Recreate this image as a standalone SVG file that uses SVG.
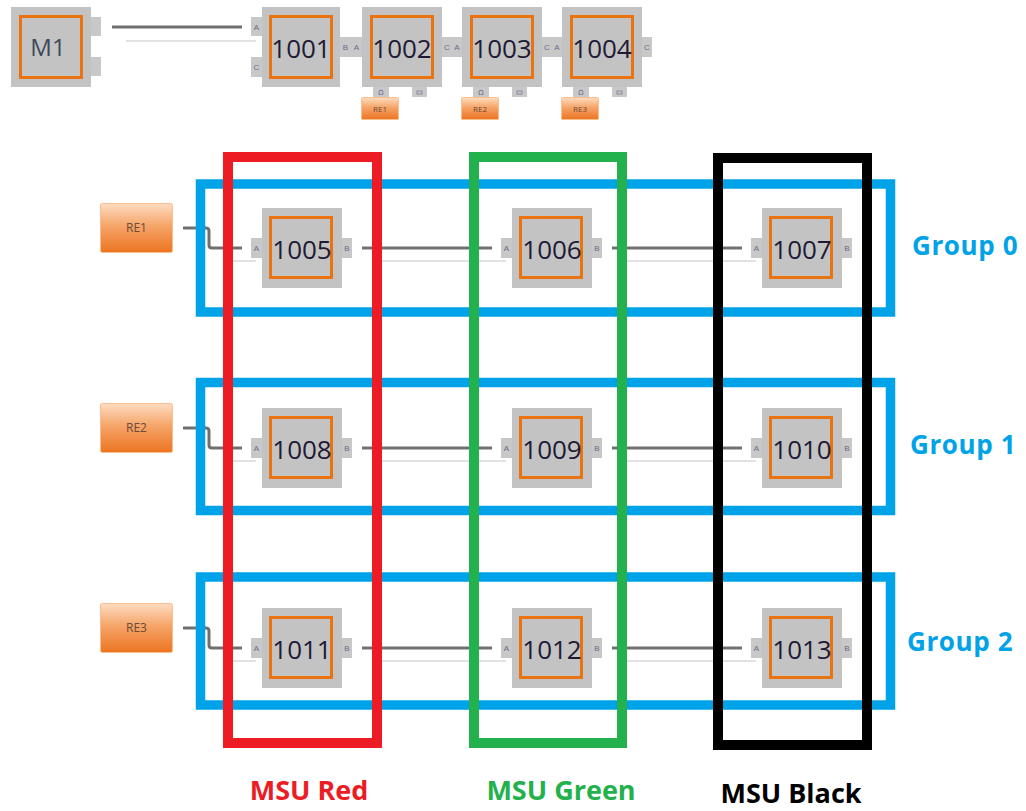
<svg xmlns="http://www.w3.org/2000/svg" width="1026" height="811" viewBox="0 0 1026 811">
<defs>
<linearGradient id="reg" x1="0" y1="0" x2="0" y2="1">
<stop offset="0" stop-color="#FDDCC0"/>
<stop offset="0.45" stop-color="#F6A56A"/>
<stop offset="1" stop-color="#EC7420"/>
</linearGradient>
</defs>
<style>
.body{fill:#C3C3C3}
.tab{fill:#C8C8C8}
.inner{fill:none;stroke:#EA730F;stroke-width:3}
.num{font-family:"Open Sans",sans-serif;font-size:26px;fill:#1E1A36;text-anchor:middle}
.port{font-family:"Liberation Sans",sans-serif;font-size:8px;fill:#6A6A8A;text-anchor:middle}
.re{fill:url(#reg);stroke:#F7BE8E;stroke-width:1}
.retxt{font-family:"Open Sans",sans-serif;font-size:12px;fill:#6A4A3A;text-anchor:middle}
.retxts{font-family:"Open Sans",sans-serif;font-size:8px;fill:#6A4A3A;text-anchor:middle}
.wire{fill:none;stroke:#707070;stroke-width:3}
.shadow{fill:none;stroke:#E2E2E2;stroke-width:2}
.grp{fill:none;stroke:#00A2E8;stroke-width:9.5}
.col{fill:none;stroke-width:10}
.glbl{font-family:"Open Sans",sans-serif;font-weight:700;font-size:26px;letter-spacing:0.6px;fill:#00A2E8}
.mlbl{font-family:"Open Sans",sans-serif;font-weight:700;font-size:27px;text-anchor:middle}
</style>

<g id="connectors">
<line class="shadow" x1="126" y1="41" x2="256" y2="41"/>
<line class="wire" x1="112" y1="27" x2="242" y2="27"/>
<g id="row0-wires">
<line class="shadow" x1="232" y1="261" x2="256" y2="261"/>
<path class="wire" d="M183,228 H206 Q209,228 209,231 V245 Q209,248 212,248 H242"/>
<line class="shadow" x1="376" y1="261" x2="506" y2="261"/>
<line class="wire" x1="362" y1="248" x2="492" y2="248"/>
<line class="shadow" x1="626" y1="261" x2="756" y2="261"/>
<line class="wire" x1="612" y1="248" x2="742" y2="248"/>
</g>
<g id="row1-wires">
<line class="shadow" x1="232" y1="461" x2="256" y2="461"/>
<path class="wire" d="M183,428 H206 Q209,428 209,431 V445 Q209,448 212,448 H242"/>
<line class="shadow" x1="376" y1="461" x2="506" y2="461"/>
<line class="wire" x1="362" y1="448" x2="492" y2="448"/>
<line class="shadow" x1="626" y1="461" x2="756" y2="461"/>
<line class="wire" x1="612" y1="448" x2="742" y2="448"/>
</g>
<g id="row2-wires">
<line class="shadow" x1="232" y1="661" x2="256" y2="661"/>
<path class="wire" d="M183,628 H206 Q209,628 209,631 V645 Q209,648 212,648 H242"/>
<line class="shadow" x1="376" y1="661" x2="506" y2="661"/>
<line class="wire" x1="362" y1="648" x2="492" y2="648"/>
<line class="shadow" x1="626" y1="661" x2="756" y2="661"/>
<line class="wire" x1="612" y1="648" x2="742" y2="648"/>
</g>
</g>

<!-- Top row -->
<g id="M1">
<rect class="body" x="11" y="7" width="80" height="80"/>
<rect class="tab" x="91" y="17" width="10" height="19"/>
<rect class="tab" x="91" y="57" width="10" height="19"/>
<rect class="inner" x="20.5" y="16.5" width="61" height="61"/>
<text x="48" y="56" font-family="Open Sans, sans-serif" font-size="24" fill="#3D4A5C" text-anchor="middle">M1</text>
</g>

<g id="n1001">
<rect class="tab" x="251" y="17" width="11" height="19"/>
<rect class="tab" x="251" y="57" width="11" height="20"/>
<text class="port" x="256.5" y="30">A</text>
<text class="port" x="256.5" y="70">C</text>
<rect class="body" x="262" y="7" width="78" height="80"/>
<rect class="inner" x="270.5" y="16.5" width="61" height="61"/>
<text class="num" x="301" y="58">1001</text>
<rect class="tab" x="340" y="37" width="11" height="20"/>
<text class="port" x="345.5" y="50">B</text>
</g>

<g id="n1002">
<rect class="tab" x="351" y="37" width="11" height="20"/>
<text class="port" x="356.5" y="50">A</text>
<rect class="body" x="362" y="7" width="80" height="80"/>
<rect class="inner" x="371.5" y="16.5" width="61" height="61"/>
<text class="num" x="402" y="58">1002</text>
<rect class="tab" x="442" y="37" width="10" height="20"/>
<text class="port" x="447" y="50">C</text>
<rect class="tab" x="373" y="87" width="16" height="10"/>
<rect class="tab" x="412" y="87" width="15" height="10"/>
<text x="381" y="95" font-family="DejaVu Sans, sans-serif" font-size="7" fill="#6A6A8A" text-anchor="middle">Ω</text>
<rect x="417" y="91" width="5" height="3" fill="none" stroke="#7A7A9A" stroke-width="0.8"/>
<rect class="re" x="361.5" y="97.5" width="37" height="22" rx="1"/>
<text class="retxts" x="380" y="112">RE1</text>
</g>

<g id="n1003">
<rect class="tab" x="452" y="37" width="10" height="20"/>
<text class="port" x="457" y="50">A</text>
<rect class="body" x="462" y="7" width="80" height="80"/>
<rect class="inner" x="471.5" y="16.5" width="61" height="61"/>
<text class="num" x="502" y="58">1003</text>
<rect class="tab" x="542" y="37" width="10" height="20"/>
<text class="port" x="547" y="50">C</text>
<rect class="tab" x="473" y="87" width="16" height="10"/>
<rect class="tab" x="512" y="87" width="15" height="10"/>
<text x="481" y="95" font-family="DejaVu Sans, sans-serif" font-size="7" fill="#6A6A8A" text-anchor="middle">Ω</text>
<rect x="517" y="91" width="5" height="3" fill="none" stroke="#7A7A9A" stroke-width="0.8"/>
<rect class="re" x="461.5" y="97.5" width="37" height="22" rx="1"/>
<text class="retxts" x="480" y="112">RE2</text>
</g>

<g id="n1004">
<rect class="tab" x="552" y="37" width="10" height="20"/>
<text class="port" x="557" y="50">A</text>
<rect class="body" x="562" y="7" width="80" height="80"/>
<rect class="inner" x="571.5" y="16.5" width="61" height="61"/>
<text class="num" x="602" y="58">1004</text>
<rect class="tab" x="642" y="37" width="10" height="20"/>
<text class="port" x="647" y="50">C</text>
<rect class="tab" x="573" y="87" width="16" height="10"/>
<rect class="tab" x="612" y="87" width="15" height="10"/>
<text x="581" y="95" font-family="DejaVu Sans, sans-serif" font-size="7" fill="#6A6A8A" text-anchor="middle">Ω</text>
<rect x="617" y="91" width="5" height="3" fill="none" stroke="#7A7A9A" stroke-width="0.8"/>
<rect class="re" x="561.5" y="97.5" width="37" height="22" rx="1"/>
<text class="retxts" x="580" y="112">RE3</text>
</g>

<!-- RE buttons -->
<g id="RE1"><rect class="re" x="100.5" y="203.5" width="72" height="49" rx="2"/><text class="retxt" x="136.5" y="232">RE1</text></g>
<g id="RE2"><rect class="re" x="100.5" y="403.5" width="72" height="49" rx="2"/><text class="retxt" x="136.5" y="432">RE2</text></g>
<g id="RE3"><rect class="re" x="100.5" y="603.5" width="72" height="49" rx="2"/><text class="retxt" x="136.5" y="632">RE3</text></g>

<!-- Grid nodes -->
<g id="n1005"><rect class="tab" x="251" y="238" width="11" height="20"/><text class="port" x="256.5" y="251">A</text><rect class="body" x="262" y="208" width="80" height="80"/><rect class="inner" x="270.5" y="217.5" width="61" height="60"/><text class="num" x="302" y="259">1005</text><rect class="tab" x="342" y="238" width="10" height="20"/><text class="port" x="347" y="251">B</text></g>
<g id="n1006"><rect class="tab" x="501" y="238" width="11" height="20"/><text class="port" x="506.5" y="251">A</text><rect class="body" x="512" y="208" width="80" height="80"/><rect class="inner" x="520.5" y="217.5" width="61" height="60"/><text class="num" x="552" y="259">1006</text><rect class="tab" x="592" y="238" width="10" height="20"/><text class="port" x="597" y="251">B</text></g>
<g id="n1007"><rect class="tab" x="751" y="238" width="11" height="20"/><text class="port" x="756.5" y="251">A</text><rect class="body" x="762" y="208" width="80" height="80"/><rect class="inner" x="770.5" y="217.5" width="61" height="60"/><text class="num" x="802" y="259">1007</text><rect class="tab" x="842" y="238" width="10" height="20"/><text class="port" x="847" y="251">B</text></g>

<g id="n1008"><rect class="tab" x="251" y="438" width="11" height="20"/><text class="port" x="256.5" y="451">A</text><rect class="body" x="262" y="408" width="80" height="80"/><rect class="inner" x="270.5" y="417.5" width="61" height="60"/><text class="num" x="302" y="459">1008</text><rect class="tab" x="342" y="438" width="10" height="20"/><text class="port" x="347" y="451">B</text></g>
<g id="n1009"><rect class="tab" x="501" y="438" width="11" height="20"/><text class="port" x="506.5" y="451">A</text><rect class="body" x="512" y="408" width="80" height="80"/><rect class="inner" x="520.5" y="417.5" width="61" height="60"/><text class="num" x="552" y="459">1009</text><rect class="tab" x="592" y="438" width="10" height="20"/><text class="port" x="597" y="451">B</text></g>
<g id="n1010"><rect class="tab" x="751" y="438" width="11" height="20"/><text class="port" x="756.5" y="451">A</text><rect class="body" x="762" y="408" width="80" height="80"/><rect class="inner" x="770.5" y="417.5" width="61" height="60"/><text class="num" x="802" y="459">1010</text><rect class="tab" x="842" y="438" width="10" height="20"/><text class="port" x="847" y="451">B</text></g>

<g id="n1011"><rect class="tab" x="251" y="638" width="11" height="20"/><text class="port" x="256.5" y="651">A</text><rect class="body" x="262" y="608" width="80" height="80"/><rect class="inner" x="270.5" y="617.5" width="61" height="60"/><text class="num" x="302" y="659">1011</text><rect class="tab" x="342" y="638" width="10" height="20"/><text class="port" x="347" y="651">B</text></g>
<g id="n1012"><rect class="tab" x="501" y="638" width="11" height="20"/><text class="port" x="506.5" y="651">A</text><rect class="body" x="512" y="608" width="80" height="80"/><rect class="inner" x="520.5" y="617.5" width="61" height="60"/><text class="num" x="552" y="659">1012</text><rect class="tab" x="592" y="638" width="10" height="20"/><text class="port" x="597" y="651">B</text></g>
<g id="n1013"><rect class="tab" x="751" y="638" width="11" height="20"/><text class="port" x="756.5" y="651">A</text><rect class="body" x="762" y="608" width="80" height="80"/><rect class="inner" x="770.5" y="617.5" width="61" height="60"/><text class="num" x="802" y="659">1013</text><rect class="tab" x="842" y="638" width="10" height="20"/><text class="port" x="847" y="651">B</text></g>

<!-- Groups -->
<g id="group0"><rect class="grp" x="200.5" y="184" width="690" height="128"/><text class="glbl" x="912" y="255">Group 0</text></g>
<g id="group1"><rect class="grp" x="200.5" y="382.5" width="690" height="128"/><text class="glbl" x="910" y="454">Group 1</text></g>
<g id="group2"><rect class="grp" x="200.5" y="577" width="690" height="128"/><text class="glbl" x="907" y="651">Group 2</text></g>

<!-- MSU columns -->
<g id="msu-red"><rect class="col" stroke="#ED1C24" x="228" y="157" width="149" height="586"/><text class="mlbl" fill="#ED1C24" x="309" y="800">MSU Red</text></g>
<g id="msu-green"><rect class="col" stroke="#22B14C" x="474" y="157" width="148" height="586"/><text class="mlbl" fill="#22B14C" x="561" y="800">MSU Green</text></g>
<g id="msu-black"><rect class="col" stroke="#000000" x="718" y="158" width="149" height="587"/><text class="mlbl" fill="#000000" x="791" y="803">MSU Black</text></g>
</svg>
